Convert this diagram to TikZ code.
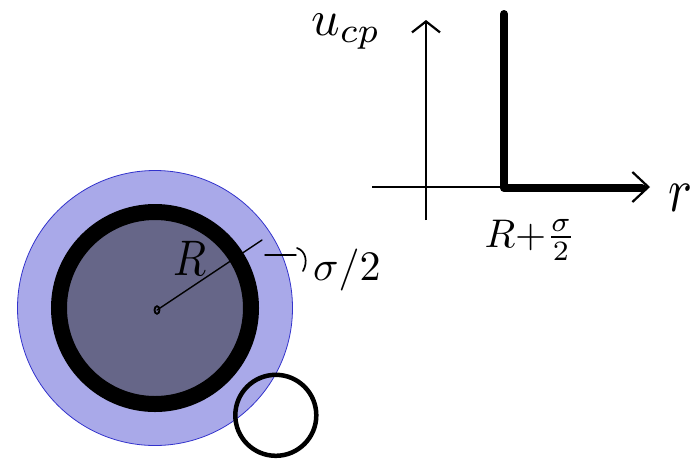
\documentclass[tikz,border=0pt]{standalone}
\usepackage{graphicx}
\usetikzlibrary{arrows.meta}
\definecolor{shellblue}{RGB}{169,169,233}
\definecolor{shelledge}{RGB}{51,51,204}
\definecolor{coregray}{RGB}{102,102,136}
\begin{document}
\begin{tikzpicture}[x=1pt,y=-1pt,
  thinline/.style={line width=1.4pt, line cap=round},
  axisline/.style={line width=1.8pt},
  label/.style={inner sep=0pt},
  hbarb/.style={-{Straight Barb[length=16pt,width=30pt,line width=2.2pt]}},
  vbarb/.style={-{Straight Barb[length=11pt,width=28pt,line width=2.2pt]}},
  heavy/.style={line width=8pt, line cap=round, line join=round}]
\useasboundingbox (0,0) rectangle (692,459);
% particle with shell
\coordinate (c) at (155,308);
\fill[shellblue, draw=shelledge, line width=0.8pt] (c) circle (137.5);
\fill[coregray] (c) circle (96);
\draw[line width=16pt] (c) circle (96);
\node[circle, draw, line width=4.5pt, minimum size=81pt, inner sep=0pt] (probe) at (275.8,415.3) {};
% radius
\coordinate (cdot) at (157,310);
\coordinate (rim) at (262,240);
\draw[thinline] (cdot) -- (rim);
\draw[line width=1.8pt] (cdot) ellipse (2.5 and 3.8);
\node[label] (Rlab) at (190,258) {\scalebox{4.3}[5]{$R$}};
% sigma/2 pointer
\coordinate (pa) at (265,255);
\coordinate (pb) at (296,255);
\draw[thinline] (pa) -- (pb);
\draw[line width=1.7pt, line cap=round] (297,248) .. controls (306,251) and (308,262) .. (303,271);
\node[label, anchor=west] (sig) at (313,270) {\scalebox{4.2}{$\sigma/2$}};
% axes
\coordinate (xs) at (372,187);
\coordinate (xe) at (650,187);
\coordinate (ys) at (426,220);
\coordinate (ye) at (426,20);
\draw[axisline, hbarb] (xs) -- (xe);
\draw[axisline, vbarb] (ys) -- (ye);
% hard wall potential
\coordinate (wt) at (504,14);
\coordinate (wb) at (504,188);
\coordinate (we) at (642,188);
\draw[heavy] (wt) -- (wb) -- (we);
% labels
\node[label, anchor=base west] (ucp) at (311,35) {\scalebox{5}{$u_{cp}$}};
\node[label, anchor=base] (rlab) at (680,211) {\scalebox{5}[6.3]{$r$}};
\node[label] (wlab) at (530,240) {\scalebox{4}{$R{+}\frac{\sigma}{2}$}};
\end{tikzpicture}
\end{document}
